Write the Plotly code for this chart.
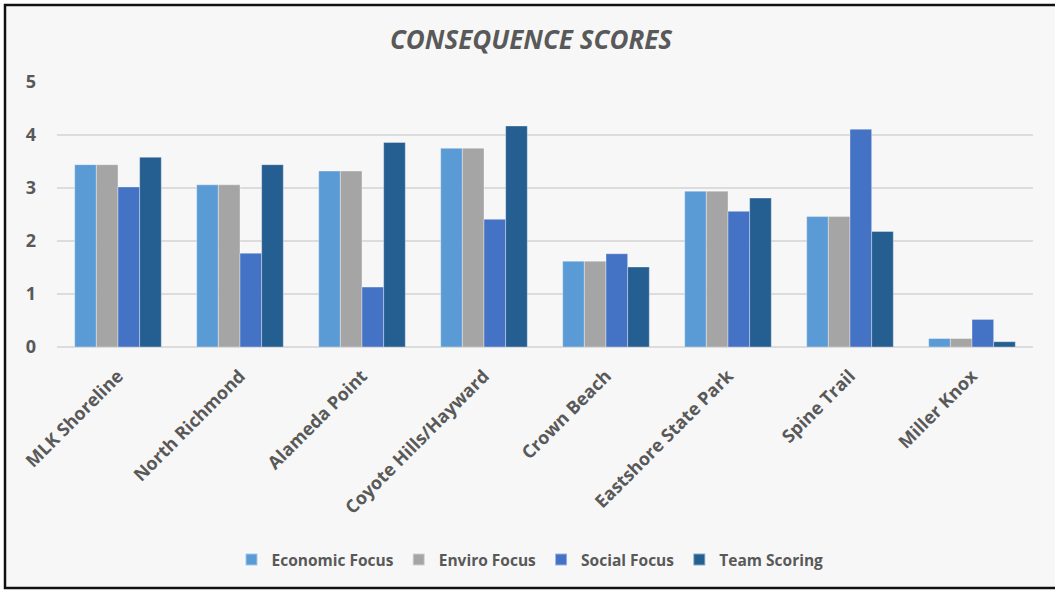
import plotly.graph_objects as go

# Sites and scores per scoring scheme
sites = ["MLK Shoreline", "North Richmond", "Alameda Point", "Coyote Hills/Hayward",
         "Crown Beach", "Eastshore State Park", "Spine Trail", "Miller Knox"]
economic_focus = [3.44, 3.06, 3.32, 3.75, 1.62, 2.94, 2.46, 0.16]
enviro_focus = [3.44, 3.06, 3.32, 3.75, 1.62, 2.94, 2.46, 0.16]
social_focus = [3.02, 1.77, 1.13, 2.41, 1.76, 2.56, 4.11, 0.52]
team_scoring = [3.58, 3.44, 3.86, 4.17, 1.51, 2.81, 2.18, 0.10]

series = [
    ("Economic Focus", economic_focus, "#5B9BD5"),
    ("Enviro Focus", enviro_focus, "#A5A5A5"),
    ("Social Focus", social_focus, "#4472C4"),
    ("Team Scoring", team_scoring, "#255E91"),
]

TEXT = "#595959"
FONT = "Open Sans"

fig = go.Figure()
for name, vals, color in series:
    fig.add_trace(go.Bar(
        x=sites, y=vals, name=name,
        marker=dict(color=color, line=dict(color="rgba(255,255,255,0.45)", width=0.8)),
    ))

# plot-area geometry in pixels
W, H = 1055, 590
L, R, T, B = 57, 22, 82, 243
pw, ph = W - L - R, H - T - B

def px_x(px):
    return (px - L) / pw

def px_y(py):
    return (H - B - py) / ph

# framed chart background
fig.add_shape(type="rect", xref="paper", yref="paper",
              x0=px_x(5), x1=px_x(1065), y0=px_y(588), y1=px_y(5),
              fillcolor="#F7F7F7", line=dict(color="#111111", width=2.5),
              layer="below")

fig.update_layout(
    width=W, height=H,
    margin=dict(l=L, r=R, t=T, b=B, pad=0),
    paper_bgcolor="white",
    plot_bgcolor="rgba(0,0,0,0)",
    barmode="group",
    bargap=0.29,
    bargroupgap=0,
    font=dict(family=FONT, color=TEXT),
    title=dict(
        text="CONSEQUENCE SCORES",
        x=px_x(531), xref="paper", xanchor="center",
        y=1 - 40 / H, yref="container", yanchor="middle",
        font=dict(family=FONT, size=26, color=TEXT, style="italic", weight="bold"),
    ),
    showlegend=True,
    legend=dict(
        orientation="h",
        x=px_x(530), xanchor="center",
        y=px_y(560), yanchor="middle",
        font=dict(family=FONT, size=15.5, color=TEXT, weight="bold"),
        bgcolor="rgba(0,0,0,0)",
        itemsizing="constant",
        traceorder="normal",
    ),
    xaxis=dict(
        tickangle=-45,
        tickfont=dict(family=FONT, size=18, color=TEXT, weight="bold"),
        showgrid=False, showline=False, ticks="",
        ticklabelstandoff=14,
    ),
    yaxis=dict(
        range=[0, 5],
        dtick=1,
        tickfont=dict(family=FONT, size=18, color=TEXT, weight="bold"),
        showgrid=True, gridcolor="#DCDCDC", gridwidth=1.5,
        zeroline=True, zerolinecolor="#DCDCDC", zerolinewidth=1.5,
        showline=False, ticks="",
        ticklabelstandoff=20,
    ),
)

fig.write_html("out.html")
